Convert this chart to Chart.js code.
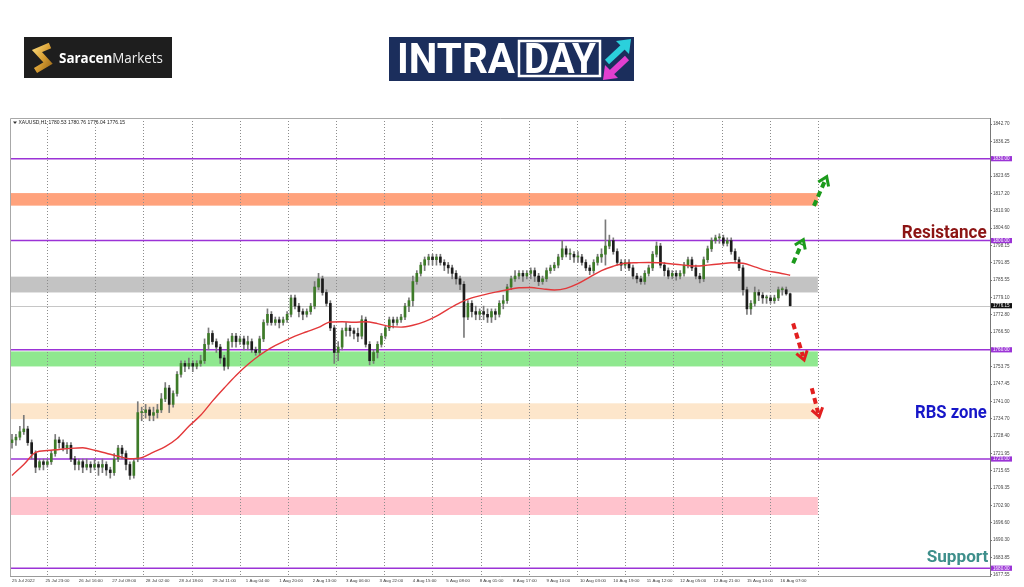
<!DOCTYPE html>
<html><head><meta charset="utf-8">
<script src="https://cdn.jsdelivr.net/npm/chart.js@4.4.1/dist/chart.umd.min.js"></script>
<style>
html,body{margin:0;padding:0;background:#fff;overflow:hidden}
#wrap{position:relative;width:1024px;height:587px;background:#fff}
#c{position:absolute;left:0;top:0}
#logos{position:absolute;left:0;top:0}
</style></head>
<body>
<div id="wrap">
<canvas id="c" width="1024" height="587"></canvas>
<svg id="logos" width="1024" height="100" viewBox="0 0 1024 100">
  <rect x="24" y="37" width="148" height="41" fill="#1e1e1e"/>
  <defs><linearGradient id="gold" x1="0" y1="0" x2="1" y2="1">
    <stop offset="0" stop-color="#f6d271"/><stop offset="0.5" stop-color="#d9a034"/><stop offset="1" stop-color="#a06d1a"/></linearGradient></defs>
  <polyline points="50,45.5 37,51 48,63 35.5,70.5" fill="none" stroke="url(#gold)" stroke-width="6" stroke-linejoin="miter"/>
  <text x="59" y="63" font-family="Open Sans" font-size="15" fill="#ffffff" textLength="104" lengthAdjust="spacingAndGlyphs"><tspan font-weight="700">Saracen</tspan><tspan font-weight="400" fill="#eeeeee">Markets</tspan></text>
  <rect x="389" y="37" width="245" height="44" fill="#1b2e5c"/>
  <text x="397" y="73.3" font-family="Roboto" font-weight="700" font-size="42" fill="#ffffff" textLength="118" lengthAdjust="spacingAndGlyphs">INTRA</text>
  <rect x="519" y="41" width="81" height="35" fill="none" stroke="#ffffff" stroke-width="2.5"/>
  <text x="524" y="73.3" font-family="Roboto" font-weight="700" font-size="42" fill="#ffffff" textLength="72" lengthAdjust="spacingAndGlyphs">DAY</text>
  <line x1="607" y1="62" x2="623" y2="47" stroke="#2bd0dc" stroke-width="6"/>
  <polygon points="631,39 616,41 629,54" fill="#2bd0dc"/>
  <line x1="627" y1="58" x2="611" y2="73" stroke="#e23fcf" stroke-width="6"/>
  <polygon points="603,80 618,78 605,65" fill="#e23fcf"/>
</svg>
</div>
<script>
// ---------------- DATA ----------------
const symbol = "XAUUSD,H1";
const xTickLabels = ["25 Jul 2022","25 Jul 23:00","26 Jul 16:00","27 Jul 09:00","28 Jul 02:00","28 Jul 18:00",
  "29 Jul 11:00","1 Aug 04:00","1 Aug 20:00","2 Aug 13:00","3 Aug 06:00","3 Aug 22:00","4 Aug 15:00",
  "5 Aug 08:00","8 Aug 01:00","8 Aug 17:00","9 Aug 10:00","10 Aug 03:00","10 Aug 19:00","11 Aug 12:00",
  "12 Aug 05:00","12 Aug 21:00","15 Aug 14:00","16 Aug 07:00"];
const yTickValues = [1842.70,1836.25,1823.65,1817.20,1810.90,1804.60,1798.15,1791.85,1785.55,1779.10,
  1772.80,1766.50,1753.75,1747.45,1741.00,1734.70,1728.40,1721.95,1715.65,1709.35,1702.90,1696.60,
  1690.30,1683.85,1677.55];
const keyLevels = [1830, 1800, 1760, 1720, 1680];
const zoneLows  = [1812.8, 1781.0, 1753.9, 1734.6, 1699.5];
const zoneHighs = [1817.4, 1786.8, 1759.4, 1740.4, 1706.1];
const zoneEndHour = 410.1;

// 2-hour candles (x = candle index * 2 hours)
const opens = [
1726,1727,1728,1730,1731,1726,1722,1717,1719,1718,
1719,1722,1727,1726,1724,1725,1720,1718,1719,1717,
1718,1717,1718,1717,1718,1716,1715,1720,1724,1722,
1718,1714,1720,1737,1737,1738,1736,1737,1738,1742,
1746,1740,1744,1751,1755,1754,1755,1754,1755,1756,
1762,1766,1763,1761,1757,1754,1763,1765,1763,1764,
1762,1763,1760,1759,1764,1770,1773,1770,1771,1770,
1771,1773,1779,1776,1774,1773,1774,1776,1783,1786,
1781,1777,1768,1759,1761,1767,1768,1767,1766,1765,
1771,1762,1756,1759,1762,1765,1768,1771,1770,1771,
1772,1776,1778,1785,1788,1791,1793,1794,1793,1794,
1792,1791,1790,1788,1786,1784,1772,1777,1774,1773,
1774,1773,1772,1774,1773,1777,1778,1783,1786,1787,
1788,1787,1788,1789,1787,1785,1786,1789,1790,1791,
1794,1797,1795,1795,1794,1794,1792,1790,1789,1792,
1794,1795,1798,1800,1796,1792,1791,1792,1790,1787,
1786,1785,1788,1790,1795,1798,1791,1789,1787,1788,
1787,1788,1791,1793,1790,1787,1786,1793,1797,1800,
1801,1801,1799,1800,1796,1793,1790,1782,1775,1777,
1781,1780,1779,1779,1778,1779,1782,1782,1780.53];
const highs = [
1729,1729,1732,1736,1732,1727,1723,1720,1720,1720,
1723,1729,1728,1727,1726,1726,1721,1720,1720,1720,
1719,1720,1719,1720,1719,1717,1722,1725,1725,1723,
1719,1720,1741,1739,1740,1739,1739,1740,1744,1748,
1747,1745,1752,1756,1756,1757,1756,1756,1758,1764,
1768,1767,1764,1762,1758,1764,1766,1766,1765,1765,
1765,1764,1761,1765,1771,1775,1774,1772,1772,1772,
1774,1780,1780,1777,1775,1775,1777,1785,1788,1787,
1782,1778,1769,1763,1768,1770,1769,1768,1768,1772.5,
1772,1763,1760,1763,1766,1769,1772,1772,1772,1773,
1777,1779,1787,1789,1792,1794,1795,1795,1795,1795,
1793,1792,1791,1789,1787,1785,1778,1778,1776,1775,
1776,1775,1775,1775,1778,1780,1784,1787,1789,1789,
1789,1789,1790,1790,1788,1787,1790,1791,1792,1795,
1800,1798,1797,1796,1796,1795,1793,1791,1793,1795,
1797,1807.6,1802,1801,1797,1793,1793,1793,1791,1788,
1787,1789,1791,1796,1799.5,1799,1792,1790,1789,1789,
1789,1792,1794,1794,1791,1788,1794,1798,1801,1802,
1802.5,1802,1801,1801,1797,1794,1791,1783,1778,1783,
1782,1781,1780,1780,1780,1783,1783,1783,1780.76];
const lows = [
1724,1725,1727,1729,1725,1720,1715,1716,1716,1717,
1718,1721,1724,1723,1722,1719,1716,1716,1715,1716,
1715,1716,1714,1715,1714,1713,1714,1719,1720,1716,
1712.5,1713,1719,1734,1735,1734,1734,1735,1737,1741,
1737,1739,1743,1750,1752,1753,1752,1753,1754,1755,
1760,1762,1759,1755,1752.5,1753,1761,1761,1762,1760,
1760,1759,1758,1758,1763,1769,1769,1769,1768,1769,
1770,1772,1775,1772,1771,1772,1773,1775,1782,1780,
1776,1767,1755,1756,1760,1765,1765,1764,1763,1764,
1761,1754.5,1755,1757,1761,1764,1767,1768,1769,1770,
1771,1774,1776,1784,1787,1789,1791,1791,1791,1791,
1789,1788,1786,1784,1782,1764.5,1771,1772,1771,1771,
1771,1770,1770,1771,1772,1775,1777,1782,1785,1786,
1785,1786,1786,1785,1783.5,1784,1785,1788,1789,1790,
1793,1794,1793,1792,1792,1791,1789,1787.5,1788,1791,
1792,1791,1797,1795,1791,1789,1790,1789,1786,1784.5,
1784,1784,1787,1789,1794,1790,1787,1786,1786,1785.5,
1786,1787,1790,1789,1786,1784.5,1785,1792,1796,1799,
1799,1798,1798,1795,1792,1789,1780,1773,1773,1776,
1778,1777,1777,1777,1777,1778,1780,1780,1776.04];
const closes = [
1727,1728,1730,1731,1726,1722,1717,1719,1718,1719,
1722,1727,1726,1724,1725,1720,1718,1719,1717,1718,
1717,1718,1717,1718,1716,1715,1720,1724,1722,1718,
1714,1719,1737,1737,1738,1736,1737,1738,1742,1746,
1740,1744,1751,1755,1754,1755,1754,1755,1756,1762,
1766,1763,1761,1757,1754,1763,1765,1763,1764,1762,
1763,1760,1759,1764,1770,1773,1770,1771,1770,1771,
1773,1779,1776,1774,1773,1774,1776,1783,1786,1781,
1777,1768,1759,1761,1767,1768,1767,1766,1765,1771,
1762,1756,1759,1762,1765,1768,1771,1770,1771,1772,
1776,1778,1785,1788,1791,1793,1794,1793,1794,1792,
1791,1790,1788,1786,1784,1772,1777,1774,1773,1774,
1773,1772,1774,1773,1777,1778,1783,1786,1787,1788,
1787,1788,1789,1787,1785,1786,1789,1790,1791,1794,
1797,1795,1795,1794,1794,1792,1790,1789,1792,1794,
1795,1798,1800,1796,1792,1791,1792,1790,1787,1786,
1785,1788,1790,1795,1798,1791,1789,1787,1788,1787,
1788,1791,1793,1790,1787,1786,1793,1797,1800,1801,
1801,1799,1800,1796,1793,1790,1782,1775,1777,1781,
1780,1779,1779,1778,1779,1782,1782,1780.5,1776.15];
// moving average, one value every 6 hours
const maValues = [1714,1718,1722.4,1723.1,1723.5,1723.9,1724.1,1723.2,1722.1,1721,
 1720.1,1720.5,1722.5,1724.5,1727.5,1732,1736,1741.2,1746,1750.6,
 1754.6,1758,1760.8,1763,1765,1766.6,1768.2,1770.2,1770.3,1770.1,
 1770.3,1769.6,1768.6,1768.3,1769,1770.3,1772.3,1774.9,1777.3,1779,
 1780.1,1781.1,1782,1782.7,1782.8,1782.3,1781.9,1782.5,1784.2,1786.6,
 1789,1790.6,1791.7,1791.9,1792,1791.9,1791.4,1791,1790.7,1791,
 1791.4,1791.9,1791.7,1790.4,1789,1788.2,1787.3];
// projection arrows: [fromHour, fromPrice, toHour, toPrice]
const arrowsUp   = [[408.1,1812.7,414.6,1823.4],[397.5,1791.7,402.7,1800.3]];
const arrowsDown = [[397.5,1769.7,403.1,1756.3],[407.0,1745.9,410.8,1735.5]];
const zoneLabels = [["Resistance",1801.0],["RBS zone",1735.0],["Support",1682.4]];

// ---------------- STYLE ----------------
const BAR_STEP = 2, MA_STEP = 6, LABEL_STEP = 17;
const GRID_START = 17.81, GRID_STEP = 24.52, GRID_COUNT = 17;
const zoneColors = ['#ffa27c','#c3c3c3','#8fe88f','#fde6cb','#ffc3cd'];
const purple = '#9b33d6';
const labelStyle = [
  {color:'#8c1414', width:85,  right:986.7, size:18.5},
  {color:'#1616c8', width:71.7,right:986.7, size:18.5},
  {color:'#3e8f8b', width:61.6,right:988.3, size:17.2}];

function drawArrow(ctx, x1, y1, x2, y2, color){
  const ang = Math.atan2(y2 - y1, x2 - x1);
  const sx = x2 - Math.cos(ang) * 4, sy = y2 - Math.sin(ang) * 4;
  ctx.save();
  ctx.strokeStyle = color; ctx.lineWidth = 4; ctx.setLineDash([6,4]); ctx.lineCap = 'butt';
  ctx.beginPath(); ctx.moveTo(x1, y1); ctx.lineTo(sx, sy); ctx.stroke();
  ctx.setLineDash([]); ctx.lineWidth = 3; ctx.lineJoin = 'miter';
  const hl = 10, hw = 0.6;
  ctx.beginPath();
  ctx.moveTo(x2 - hl * Math.cos(ang - hw), y2 - hl * Math.sin(ang - hw));
  ctx.lineTo(x2, y2);
  ctx.lineTo(x2 - hl * Math.cos(ang + hw), y2 - hl * Math.sin(ang + hw));
  ctx.stroke();
  ctx.restore();
}

const overlay = {
  id: 'overlay',
  beforeDatasetsDraw(chart){
    const {ctx, chartArea:a, scales:{x, y}} = chart;
    ctx.save();
    const zx = x.getPixelForValue(zoneEndHour);
    zoneLows.forEach((lo, i) => {
      const y1 = y.getPixelForValue(zoneHighs[i]), y2 = y.getPixelForValue(lo);
      ctx.fillStyle = zoneColors[i];
      ctx.fillRect(a.left, y1, zx - a.left, y2 - y1);
    });
    // dotted vertical grid
    ctx.strokeStyle = '#8c8c8c'; ctx.lineWidth = 1; ctx.setLineDash([1,2]);
    for (let k = 0; k < GRID_COUNT; k++){
      const px = Math.round(x.getPixelForValue(GRID_START + k * GRID_STEP)) + 0.5;
      ctx.beginPath(); ctx.moveTo(px, a.top); ctx.lineTo(px, a.bottom); ctx.stroke();
    }
    ctx.setLineDash([]);
    // current price line
    const cy = Math.round(y.getPixelForValue(closes[closes.length-1])) + 0.5;
    ctx.strokeStyle = '#c6c6c6'; ctx.lineWidth = 1;
    ctx.beginPath(); ctx.moveTo(a.left, cy); ctx.lineTo(a.right, cy); ctx.stroke();
    // key levels
    ctx.strokeStyle = purple; ctx.lineWidth = 1.5;
    keyLevels.forEach(v => {
      const py = y.getPixelForValue(v);
      ctx.beginPath(); ctx.moveTo(a.left, py); ctx.lineTo(a.right, py); ctx.stroke();
    });
    ctx.restore();
  },
  afterDatasetsDraw(chart){
    const {ctx, chartArea:a, scales:{x, y}} = chart;
    arrowsUp.forEach(r => drawArrow(ctx, x.getPixelForValue(r[0]), y.getPixelForValue(r[1]), x.getPixelForValue(r[2]), y.getPixelForValue(r[3]), '#1c9a1c'));
    arrowsDown.forEach(r => drawArrow(ctx, x.getPixelForValue(r[0]), y.getPixelForValue(r[1]), x.getPixelForValue(r[2]), y.getPixelForValue(r[3]), '#e21f1f'));
    zoneLabels.forEach((l, i) => {
      const st = labelStyle[i];
      ctx.save();
      ctx.font = `bold ${st.size}px Roboto`;
      const w = ctx.measureText(l[0]).width;
      ctx.translate(st.right - st.width, y.getPixelForValue(l[1]));
      ctx.scale(st.width / w, 1);
      ctx.fillStyle = st.color; ctx.textBaseline = 'alphabetic'; ctx.textAlign = 'left';
      ctx.fillText(l[0], 0, 0);
      ctx.restore();
    });
  },
  afterDraw(chart){
    const {ctx, chartArea:a, scales:{x, y}} = chart;
    ctx.save();
    ctx.strokeStyle = '#a8a8a8'; ctx.lineWidth = 1;
    ctx.beginPath();
    ctx.moveTo(a.left + 0.5, a.bottom); ctx.lineTo(a.left + 0.5, a.top + 0.5); ctx.lineTo(a.right, a.top + 0.5);
    ctx.stroke();
    // time labels along the x scale
    ctx.font = '4.4px "Liberation Sans"'; ctx.fillStyle = '#3a3a3a';
    ctx.textBaseline = 'middle'; ctx.textAlign = 'left';
    xTickLabels.forEach((t, i) => ctx.fillText(t, x.getPixelForValue(i * LABEL_STEP), a.bottom + 4.5));
    // axis boxes
    ctx.font = '4.6px "Liberation Sans"';
    const boxes = keyLevels.map(v => [v, purple]).concat([[closes[closes.length-1], '#111111']]);
    boxes.forEach(([v, col]) => {
      const py = y.getPixelForValue(v);
      ctx.fillStyle = col;
      ctx.fillRect(a.right + 1, py - 2.6, 21, 5.2);
      ctx.fillStyle = '#ffffff';
      ctx.fillText(v.toFixed(2), a.right + 3, py + 0.2);
    });
    // header
    const n = closes.length - 1;
    ctx.fillStyle = '#333';
    ctx.beginPath(); ctx.moveTo(13, 121.5); ctx.lineTo(17, 121.5); ctx.lineTo(15, 124); ctx.closePath(); ctx.fill();
    ctx.font = '5px "Liberation Sans"'; ctx.fillStyle = '#222';
    ctx.fillText(`${symbol} ${opens[n].toFixed(2)} ${highs[n].toFixed(2)} ${lows[n].toFixed(2)} ${closes[n].toFixed(2)}`, 18.5, 123);
    ctx.restore();
  }
};

const wickData = lows.map((l, i) => ({x: i * BAR_STEP, y: [l, highs[i]]}));
const bodyData = opens.map((o, i) => ({x: i * BAR_STEP, y: [o, closes[i]]}));
const maData = maValues.map((v, i) => ({x: i * MA_STEP, y: v}));

new Chart(document.getElementById('c'), {
  type: 'bar',
  data: {
    datasets: [
      {type:'line', data: maData, borderColor:'#e3383a', borderWidth:1.4, pointRadius:0,
       cubicInterpolationMode:'monotone', tension:0.4, order:0},
      {type:'bar', data: bodyData, grouped:false, barThickness:2, minBarLength:1, borderWidth:0,
       backgroundColor: c => (closes[c.dataIndex] >= opens[c.dataIndex] ? '#3d7b28' : '#1c1c1c'), order:1},
      {type:'bar', data: wickData, grouped:false, barThickness:1, borderWidth:0,
       backgroundColor:'#7a7a7a', order:2}
    ]
  },
  options: {
    responsive:false, animation:false, devicePixelRatio:1,
    layout:{padding:{left:10, top:118, right:0, bottom:0}},
    plugins:{legend:{display:false}, tooltip:{enabled:false}},
    scales:{
      x:{type:'linear', min:-1.02, max:497.7, offset:false,
         grid:{display:false, offset:false},
         border:{display:true, color:'#9a9a9a'},
         afterBuildTicks: s => { s.ticks = xTickLabels.map((_, i) => ({value: i * LABEL_STEP})); },
         afterFit: s => { s.height = 11; },
         ticks:{display:false, autoSkip:false, maxRotation:0, minRotation:0}},
      y:{type:'linear', position:'right', min:1677.15, max:1844.9,
         afterBuildTicks: s => { s.ticks = yTickValues.map(v => ({value: v})); },
         afterFit: s => { s.width = 34; },
         grid:{drawOnChartArea:false, drawTicks:true, tickLength:2, tickColor:'#777'},
         border:{display:true, color:'#777'},
         ticks:{autoSkip:false, padding:1, color:'#444', font:{size:4.6, family:'Liberation Sans'},
                callback: v => Number(v).toFixed(2)}}
    }
  },
  plugins:[overlay]
});
</script>
</body></html>
